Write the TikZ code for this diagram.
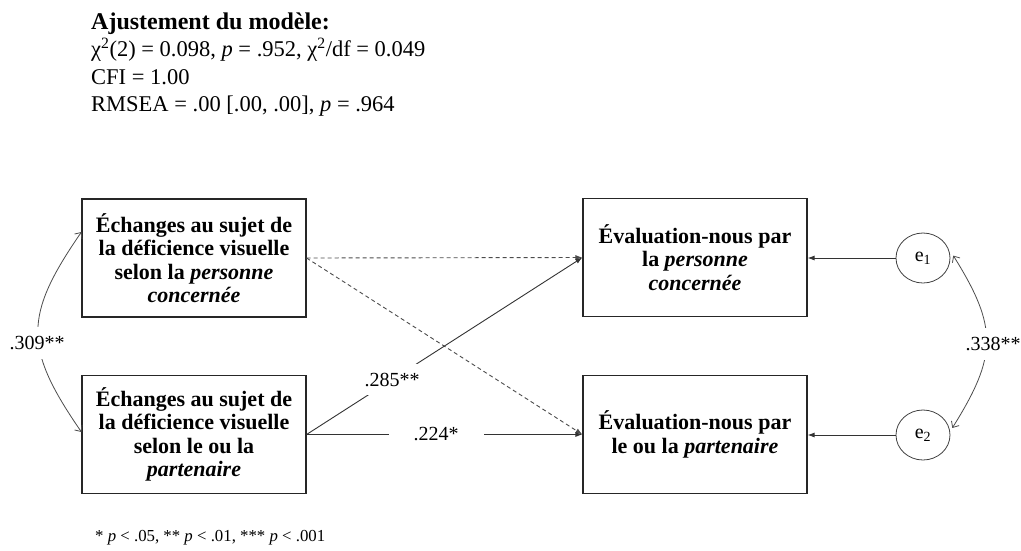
\documentclass[tikz,border=0pt]{standalone}
\usepackage{fontspec}
\setmainfont{Liberation Serif}
\usetikzlibrary{arrows.meta,shapes.geometric}

\tikzset{
  fitline/.style={anchor=base west, inner sep=0pt, font=\fontsize{22.5}{27}\selectfont},
  varbox/.style={draw=black!85, line width=1.1pt, minimum width=224pt, minimum height=118pt,
    inner sep=2pt, align=center, font=\fontsize{22}{23.5}\selectfont\bfseries},
  errnode/.style={draw=black!75, line width=0.8pt, ellipse, minimum width=54pt, minimum height=50pt,
    inner sep=0pt, font=\fontsize{20}{22}\selectfont},
  effect/.style={draw=black!80, line width=0.9pt, -{Latex[length=7pt,width=5pt]}},
  nsig/.style={effect, dash pattern=on 4pt off 3pt, draw=black!70},
  covar/.style={draw=black!70, line width=0.8pt,
    {Straight Barb[length=5pt,width=9pt]}-{Straight Barb[length=5pt,width=9pt]}},
  coef/.style={fill=white, font=\fontsize{20}{21}\selectfont, inner xsep=2pt, inner ysep=9pt},
}

\begin{document}
\begin{tikzpicture}[x=1pt, y=-1pt]
\useasboundingbox (0,0) rectangle (1021,550);

% fit summary
\node[fitline, font=\fontsize{24}{27}\selectfont] (fit1) at (91,29) {\textbf{Ajustement du modèle:}};
\node[fitline] (fit2) at (91,56.5) {χ\textsuperscript{2}(2) = 0.098, \textit{p} = .952, χ\textsuperscript{2}/df = 0.049};
\node[fitline] (fit3) at (91,84) {CFI = 1.00};
\node[fitline] (fit4) at (91,111.5) {RMSEA = .00 [.00, .00], \textit{p} = .964};

% observed variables
\node[varbox] (A) at (194,258) {Échanges au sujet de\\la déficience visuelle\\selon la \textit{personne}\\\textit{concernée}};
\node[varbox] (B) at (194,434.5) {Échanges au sujet de\\la déficience visuelle\\selon le ou la\\\textit{partenaire}};
\node[varbox] (C) at (695,257.5) {Évaluation-nous par\\la \textit{personne}\\\textit{concernée}};
\node[varbox] (D) at (695,434.5) {Évaluation-nous par\\le ou la \textit{partenaire}};

% residuals
\node[errnode] (e1) at (923,258) {e\textsubscript{1}};
\node[errnode] (e2) at (923,435) {e\textsubscript{2}};

% paths
\draw[nsig] (A.east) -- (C.west);
\draw[nsig] (A.east) -- (D.west);
\draw[effect] (B.east) -- node[coef, pos=0.31] (b1) {.285**} (C.west);
\draw[effect] (B.east) -- node[coef, pos=0.47, inner xsep=25pt] (b2) {.224*} (D.west);
\draw[effect] (e1.west) -- (e1.west -| C.east);
\draw[effect] (e2.west) -- (e2.west -| D.east);

% covariances
\draw[covar] ([yshift=26pt]A.west) .. controls +(-58pt,-84pt) and +(-58pt,84pt) .. ([yshift=2.5pt]B.west);
\node[coef] (r1) at (37,343) {.309**};
\draw[covar] ([xshift=3pt]e1.5) .. controls +(45pt,-72pt) and +(45pt,72pt) .. ([xshift=3pt]e2.15);
\node[coef, inner xsep=0pt] (r2) at (993,344) {.338**};

% significance note
\node[anchor=base west, inner sep=0pt, font=\fontsize{16.8}{18}\selectfont] (note) at (95,541)
  {* \textit{p} < .05, ** \textit{p} < .01, *** \textit{p} < .001};
\end{tikzpicture}
\end{document}
